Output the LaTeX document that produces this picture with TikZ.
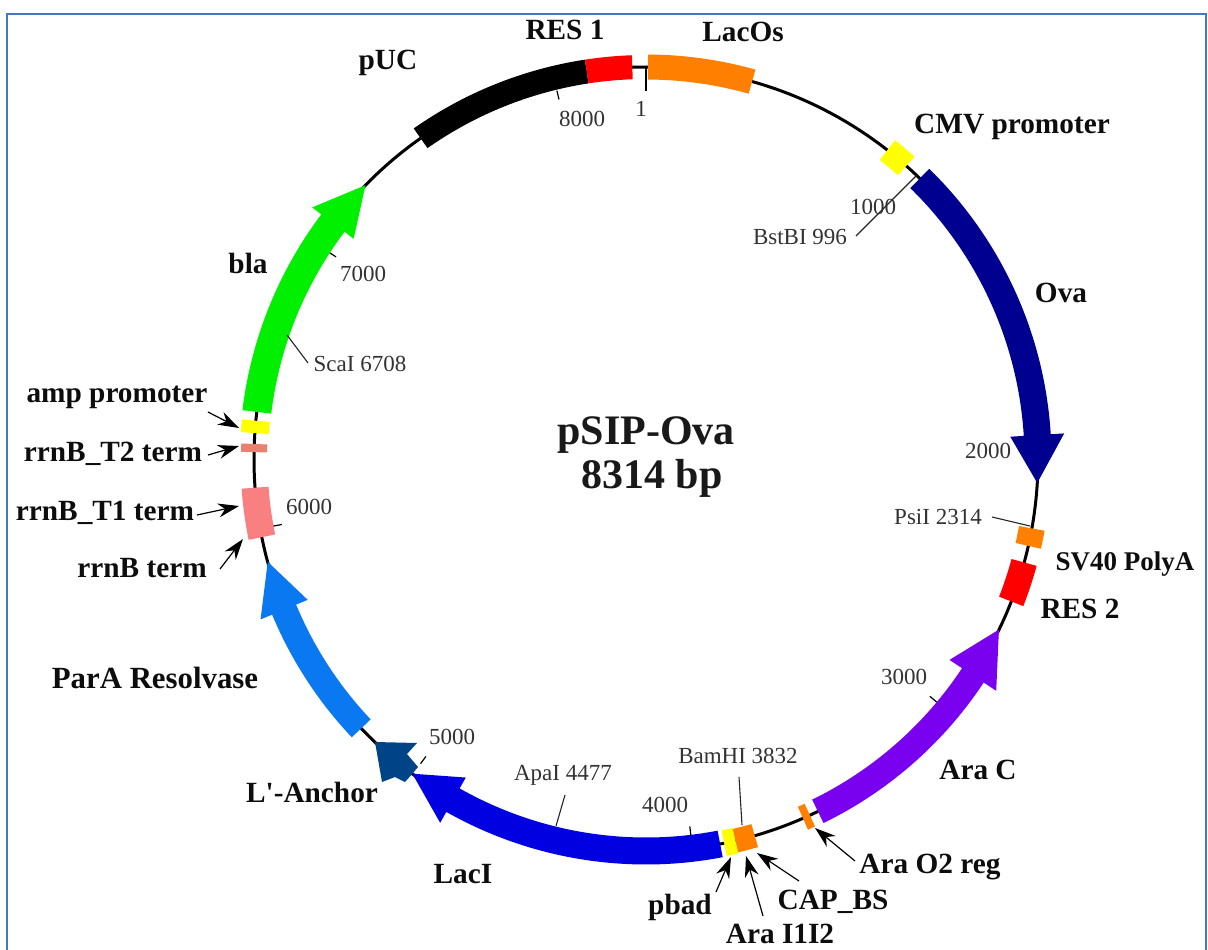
\documentclass[tikz,border=0pt]{standalone}
\usepackage{fontspec}
\setmainfont{Liberation Serif}
\newfontfamily\plainserif{Liberation Serif}
\usetikzlibrary{arrows.meta}
\definecolor{framec}{HTML}{4478C0}
\definecolor{cOrange}{HTML}{FF8000}
\definecolor{cRed}{HTML}{FF0000}
\definecolor{cYellow}{HTML}{FFFF00}
\definecolor{cNavy}{HTML}{000090}
\definecolor{cPurple}{HTML}{7A00F0}
\definecolor{cBlue}{HTML}{0000E0}
\definecolor{cAnchor}{HTML}{004488}
\definecolor{cPara}{HTML}{0A78F0}
\definecolor{cGreen}{HTML}{00F000}
\definecolor{cTone}{HTML}{F88080}
\definecolor{cTtwo}{HTML}{E8826E}
\newcommand{\band}[4]{% colour, theta1, theta2, half width
  \pgfmathsetmacro\aA{#2-90}\pgfmathsetmacro\aB{#3-90}%
  \pgfmathsetmacro\rO{392+#4}\pgfmathsetmacro\rI{392-#4}%
  \fill[#1] (\aA:\rO) arc[start angle=\aA,end angle=\aB,radius=\rO]
    -- (\aB:\rI) arc[start angle=\aB,end angle=\aA,radius=\rI] -- cycle;}
\newcommand{\genearrow}[6]{% colour, start, neck, tip, shaft half, head half
  \pgfmathsetmacro\aA{#2-90}\pgfmathsetmacro\aB{#3-90}\pgfmathsetmacro\aT{#4-90}%
  \pgfmathsetmacro\rO{392+#5}\pgfmathsetmacro\rI{392-#5}%
  \pgfmathsetmacro\hO{392+#6}\pgfmathsetmacro\hI{392-#6}%
  \fill[#1] (\aA:\rO) arc[start angle=\aA,end angle=\aB,radius=\rO]
    -- (\aB:\hO) -- (\aT:392) -- (\aB:\hI) -- (\aB:\rI)
    arc[start angle=\aB,end angle=\aA,radius=\rI] -- cycle;}
\newcommand{\tick}[1]{% base pair position
  \pgfmathsetmacro\aA{#1/8314*360-90}%
  \draw[ticks] (\aA:379) -- (\aA:370);}
\tikzset{
  x=1pt,y=-1pt,
  feat/.style={font=\fontsize{29.3}{31}\selectfont\bfseries,text=black!95,inner sep=0pt},
  site/.style={font=\fontsize{23}{25}\selectfont,text=black!80,inner sep=0pt},
  title/.style={font=\fontsize{42}{46}\selectfont\bfseries,text=black!90,inner sep=0pt},
  ticks/.style={line width=1.2pt,black},
  leader/.style={line width=1.1pt,black!85},
  callout/.style={line width=1.2pt,black,-{Stealth[length=21pt,width=14pt]}},
  ring/.style={line width=3pt,black}
}
\begin{document}
\begin{tikzpicture}
\useasboundingbox (0,0) rectangle (1208,950);
\fill[white] (0,0) rectangle (1208,950);
\draw[framec,line width=2pt] (7,950) -- (7,14) -- (1206,14) -- (1206,950);

\begin{scope}[shift={(646,459)}]
  \draw[ring] (0,0) circle[radius=392];
  % radial position ticks
  \draw[ticks] (-90:392) -- (-90:368);
  \tick{8000}\tick{3000}\tick{4000}\tick{5000}\tick{6000}\tick{7000}
  % features on the ring
  \band{black}{324.9}{351.3}{12}
  \band{cRed}{351.3}{358}{12}
  \band{cOrange}{0.3}{15.7}{12.5}
  \band{cYellow}{38}{41.6}{12.5}
  \genearrow{cNavy}{44.3}{86.5}{93.5}{13.5}{27}
  \band{cOrange}{100.2}{102.8}{13}
  \band{cRed}{105.3}{111.3}{13}
  \genearrow{cPurple}{154}{123.5}{115.8}{13}{28}
  \band{cOrange}{155.3}{156.4}{12.5}
  \band{cYellow}{166.8}{168.5}{13}
  \band{cOrange}{163.9}{166.8}{12}
  \genearrow{cBlue}{169.1}{209.5}{216.6}{13.5}{26}
  \genearrow{cPara}{226.6}{247.4}{254.8}{13}{25.5}
  \band{cTone}{258.5}{265.8}{13.5}
  \band{cTtwo}{271}{272.2}{13}
  \band{cYellow}{273.8}{275.6}{14}
  \genearrow{cGreen}{276.9}{307}{314.3}{14.5}{26}
\end{scope}
\fill[cAnchor] (375,742) -- (417,743) -- (407,754) -- (418,767) -- (413,773) -- (405,782) -- (395,777) -- (382,782) -- cycle;

% leaders of restriction sites
\node[site] (bam) at (738,756) {BamHI 3832};
\node[site] (apa) at (563,775) {ApaI 4477};
\node[site] (psi) at (938,517) {PsiI 2314};
\node[site] (bst) at (800,237) {BstBI 996};
\node[site] (sca) at (360,364) {ScaI 6708};
\coordinate (bamA) at (739,777); \coordinate (bamB) at (742,825);
\coordinate (apaA) at (565,795); \coordinate (apaB) at (556,826);
\coordinate (psiA) at (992,517); \coordinate (psiB) at (1030,526);
\coordinate (bstA) at (856,236); \coordinate (bstB) at (917,175);
\coordinate (scaA) at (308,363); \coordinate (scaB) at (287,335);
\draw[leader] (bamA) -- (bamB);
\draw[leader] (apaA) -- (apaB);
\draw[leader] (psiA) -- (psiB);
\draw[leader] (bstA) -- (bstB);
\draw[leader] (scaA) -- (scaB);

% scale numbers
\node[site] (n1) at (641,109) {1};
\node[site] (n8000) at (582,119) {8000};
\node[site] (n1000) at (873,207) {1000};
\node[site] (n2000) at (988,451) {2000};
\node[site] (n3000) at (904,677) {3000};
\node[site] (n4000) at (665,805) {4000};
\node[site] (n5000) at (452,737) {5000};
\node[site] (n6000) at (309,507) {6000};
\node[site] (n7000) at (363,274) {7000};

% feature names
\node[feat] (res1) at (565,30) {RES 1};
\node[feat] (lacos) at (743,32) {LacOs};
\node[feat] (puc) at (388,63) {pUC};
\node[feat] (cmv) at (1012,127) {CMV promoter};
\node[feat] (ova) at (1061,293) {Ova};
\node[feat,font=\fontsize{27}{29}\selectfont\bfseries] (sv40) at (1125,564) {SV40 PolyA};
\node[feat] (res2) at (1080,609) {RES 2};
\node[feat] (arac) at (978,770) {Ara C};
\node[feat] (o2) at (930,867) {Ara O2 reg};
\node[feat] (cap) at (833,902) {CAP\_BS};
\node[feat] (ara12) at (780,934) {Ara I1I2};
\node[feat] (pbad) at (680,907) {pbad};
\node[feat] (laci) at (463,874) {LacI};
\node[feat] (anchor) at (312,792) {L{\plainserif\bfseries '}-Anchor};
\node[feat,font=\fontsize{30.8}{33}\selectfont\bfseries] (para) at (155,678) {ParA Resolvase};
\node[feat] (rrnb) at (142,568) {rrnB term};
\node[feat] (t1) at (105,513) {rrnB\_T1 term};
\node[feat] (t2) at (113,454) {rrnB\_T2 term};
\node[feat] (amp) at (117,397) {amp promoter};
\node[feat] (bla) at (248,263) {bla};
\node[title] (name) at (646,435) {pSIP-Ova};
\node[title] (size) at (652,478) {8314 bp};

% callout arrows
\coordinate (ampA) at (208,412); \coordinate (ampB) at (239,428);
\coordinate (t2A) at (208,455); \coordinate (t2B) at (239,446);
\coordinate (t1A) at (197,515); \coordinate (t1B) at (239,506);
\coordinate (rbA) at (220,569); \coordinate (rbB) at (243,539);
\coordinate (pbA) at (716,892); \coordinate (pbB) at (731,857);
\coordinate (arA) at (763,916); \coordinate (arB) at (746,856);
\coordinate (caA) at (799,881); \coordinate (caB) at (757,853);
\coordinate (o2A) at (855,861); \coordinate (o2B) at (815,828);
\draw[callout] (ampA) -- (ampB);
\draw[callout] (t2A) -- (t2B);
\draw[callout] (t1A) -- (t1B);
\draw[callout] (rbA) -- (rbB);
\draw[callout] (pbA) -- (pbB);
\draw[callout] (arA) -- (arB);
\draw[callout] (caA) -- (caB);
\draw[callout] (o2A) -- (o2B);
\end{tikzpicture}
\end{document}
